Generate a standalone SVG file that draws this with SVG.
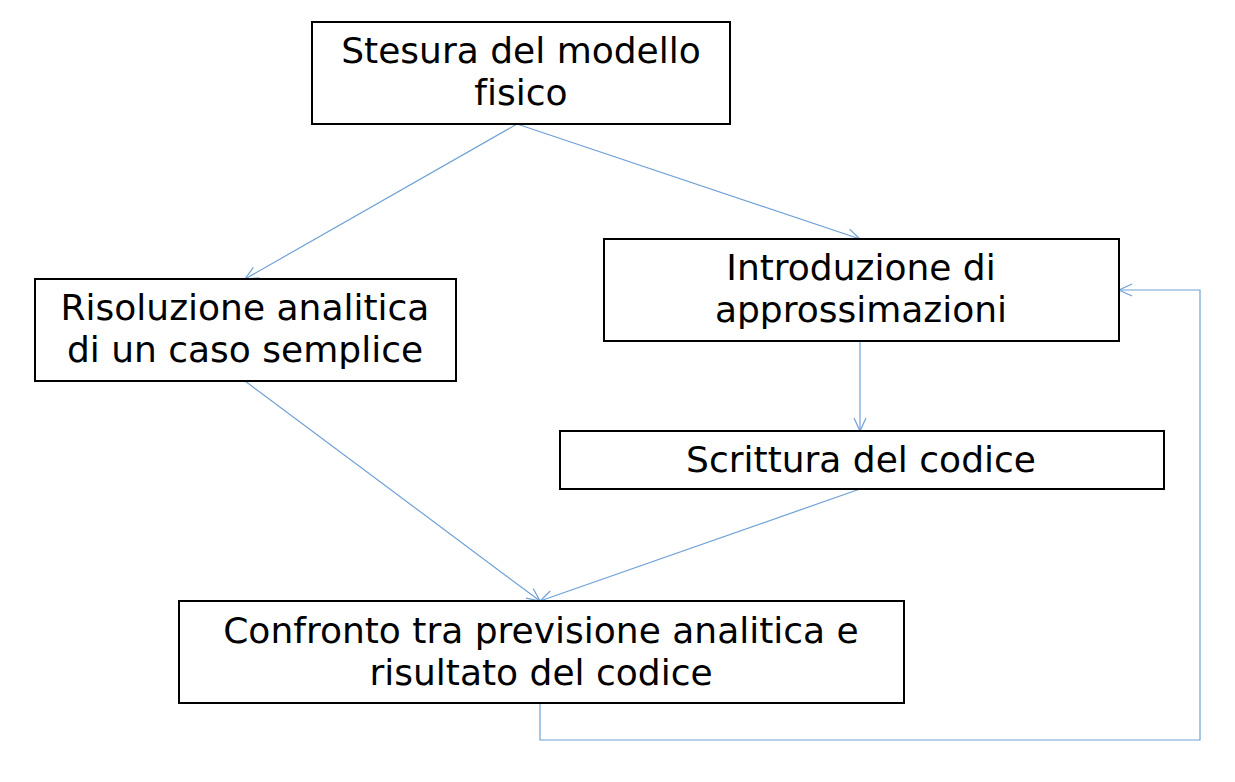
<svg xmlns="http://www.w3.org/2000/svg" width="1235" height="782" viewBox="0 0 1235 782">
<defs>
<style>
.box{fill:#fff;stroke:#000;stroke-width:2}
.t{font-family:"DejaVu Sans",sans-serif;font-size:36px;fill:#000;text-anchor:middle;font-variant-ligatures:none}
.c{fill:none;stroke:#6fa1d6;stroke-width:1.2}
</style>
<marker id="ah" markerWidth="16" markerHeight="16" refX="14" refY="8" orient="auto" markerUnits="userSpaceOnUse">
<path d="M1,2 L14,8 L1,14" fill="none" stroke="#6fa1d6" stroke-width="1.2"/>
</marker>
</defs>
<rect width="1235" height="782" fill="#fff"/>
<g id="connectors">
<line class="c" x1="517" y1="124" x2="245" y2="279" marker-end="url(#ah)"/>
<line class="c" x1="517" y1="124" x2="860" y2="239" marker-end="url(#ah)"/>
<line class="c" x1="860" y1="341" x2="860" y2="431" marker-end="url(#ah)"/>
<line class="c" x1="245" y1="381" x2="540" y2="601" marker-end="url(#ah)"/>
<line class="c" x1="860" y1="489" x2="540" y2="601" marker-end="url(#ah)"/>
<polyline class="c" points="540,703 540,740 1200,740 1200,290 1119,290" marker-end="url(#ah)"/>
</g>
<g id="n1"><rect class="box" x="312" y="22" width="418" height="102"/>
<text class="t" x="521" y="63">Stesura del modello</text><text class="t" x="521" y="105">fisico</text></g>
<g id="n2"><rect class="box" x="35" y="279" width="421" height="102"/>
<text class="t" x="245" y="320">Risoluzione analitica</text><text class="t" x="245" y="362">di un caso semplice</text></g>
<g id="n3"><rect class="box" x="604" y="239" width="515" height="102"/>
<text class="t" x="861" y="280">Introduzione di</text><text class="t" x="861" y="322">approssimazioni</text></g>
<g id="n4"><rect class="box" x="560" y="431" width="604" height="58"/>
<text class="t" x="861" y="472">Scrittura del codice</text></g>
<g id="n5"><rect class="box" x="179" y="601" width="725" height="102"/>
<text class="t" x="541" y="643">Confronto tra previsione analitica e</text><text class="t" x="541" y="685">risultato del codice</text></g>
</svg>
